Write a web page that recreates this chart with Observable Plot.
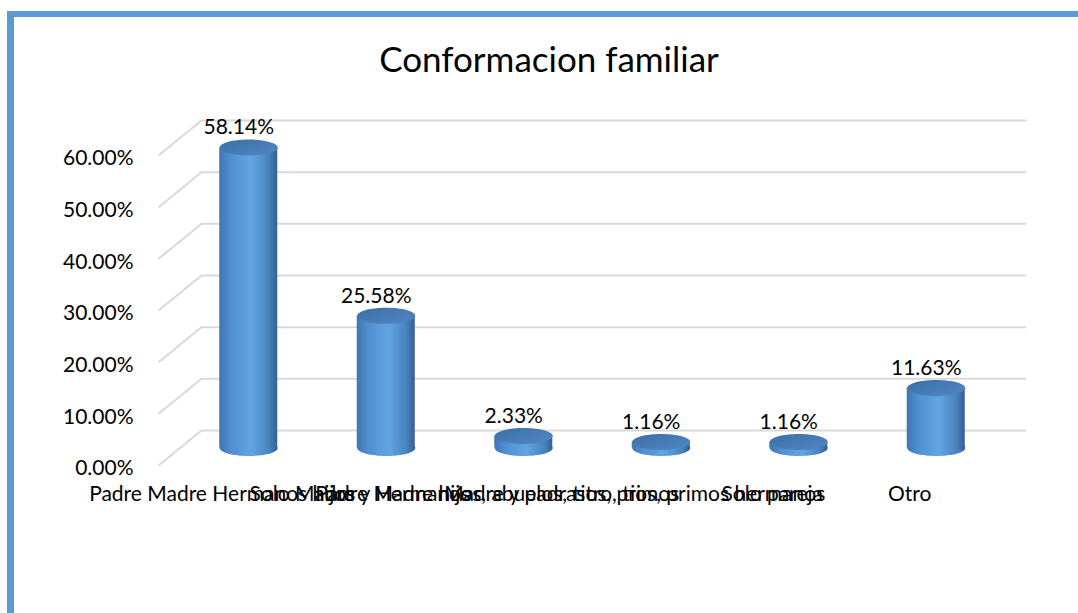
<!DOCTYPE html>
<html>
<head>
<meta charset="utf-8">
<script src="https://cdn.jsdelivr.net/npm/d3@7"></script>
<script src="https://cdn.jsdelivr.net/npm/@observablehq/plot@0.6"></script>
<style>
  html, body { margin: 0; padding: 0; background: #fff; width: 1078px; height: 613px; overflow: hidden; }
  #frame { position: absolute; left: 7px; top: 11px; width: 1200px; height: 700px;
           border-top: 6px solid #5b9bd5; border-left: 7px solid #5b9bd5; box-sizing: border-box; }
  #title { position: absolute; left: 0; width: 1098px; top: 37px; text-align: center;
           font-family: Lato, "Open Sans", sans-serif; font-size: 35px; color: #000; }
  #chart { position: absolute; left: 0; top: 0; }
</style>
</head>
<body>
<div id="frame"></div>
<div id="title">Conformacion familiar</div>
<div id="chart"></div>
<script>
// ---- data ----
const categories = [
  "Padre Madre Hermanos hijos",
  "Solo Madre y Hermanos",
  "Padre Madre hijos, abuelos, tios, primos",
  "Madre y padrastro, tios, primos hermanos",
  "Solo pareja",
  "Otro"
];
const values = [0.5814, 0.2558, 0.0233, 0.0116, 0.0116, 0.1163];
const valueLabels = ["58.14%", "25.58%", "2.33%", "1.16%", "1.16%", "11.63%"];
const yTicks = [0, 0.1, 0.2, 0.3, 0.4, 0.5, 0.6];

// ---- layout ----
const W = 1078, H = 560;
const mL = 158, mR = 95, mT = 155, mB = 95;
const depthPx = {x: 43, y: 35};       // 3D depth of the plot floor
const barHalfPx = 29, capRy = 8;

const pxPerX = (W - mL - mR) / categories.length;
const pxPerY = (H - mT - mB) / 0.6;
const depthX = depthPx.x / pxPerX;
const depthY = depthPx.y / pxPerY;
const halfBar = barHalfPx / pxPerX;
const midDx = depthPx.x / 2, midDy = -depthPx.y / 2;

const data = categories.map((c, i) => ({c, i, x: i + 0.5, v: values[i], label: valueLabels[i]}));

const ellipse = {
  draw(ctx) {
    const rx = barHalfPx, ry = capRy, k = 0.5523;
    ctx.moveTo(rx, 0);
    ctx.bezierCurveTo(rx, ry * k, rx * k, ry, 0, ry);
    ctx.bezierCurveTo(-rx * k, ry, -rx, ry * k, -rx, 0);
    ctx.bezierCurveTo(-rx, -ry * k, -rx * k, -ry, 0, -ry);
    ctx.bezierCurveTo(rx * k, -ry, rx, -ry * k, rx, 0);
    ctx.closePath();
  }
};

const chart = Plot.plot({
  width: W, height: H,
  marginLeft: mL, marginRight: mR, marginTop: mT, marginBottom: mB,
  style: {fontFamily: "Lato, 'Open Sans', sans-serif", fontSize: "20px", color: "#000", background: "transparent"},
  x: {type: "linear", domain: [0, categories.length], label: null},
  y: {domain: [0, 0.6], label: null},
  marks: [
    Plot.ruleY(yTicks, {dx: depthPx.x, dy: -depthPx.y, stroke: "#d9d9d9", strokeWidth: 2}),
    Plot.link(yTicks, {x1: 0, y1: d => d, x2: depthX, y2: d => d + depthY, stroke: "#d9d9d9", strokeWidth: 2}),
    Plot.dot(data, {x: "x", y: 0, symbol: ellipse, r: 5, fill: "url(#cylGrad)", stroke: "none", dx: midDx, dy: midDy}),
    Plot.rect(data, {x1: d => d.x - halfBar, x2: d => d.x + halfBar, y1: 0, y2: "v", fill: "url(#cylGrad)", dx: midDx, dy: midDy}),
    Plot.dot(data, {x: "x", y: "v", symbol: ellipse, r: 5, fill: "url(#capGrad)", stroke: "none", dx: midDx, dy: midDy}),
    Plot.text(data, {x: "x", y: "v", text: "label", dx: midDx - 10, dy: midDy - 20, fill: "#000", fontSize: 21}),
    Plot.axisY({ticks: yTicks, tickFormat: d3.format(".2%"), tickSize: 0, tickPadding: 25, dy: 3, fontSize: 21, label: null}),
    Plot.axisX({ticks: data.map(d => d.x), tickFormat: (d) => categories[Math.round(d - 0.5)], tickSize: 0, tickPadding: 21, dx: -5, fontSize: 21, label: null})
  ]
});

const svg = d3.select(chart);
const defs = svg.insert("defs", ":first-child");
const g1 = defs.append("linearGradient").attr("id", "cylGrad").attr("x1", "0").attr("x2", "1").attr("y1", "0").attr("y2", "0");
g1.append("stop").attr("offset", "0%").attr("stop-color", "#3f75b3");
g1.append("stop").attr("offset", "20%").attr("stop-color", "#5190d2");
g1.append("stop").attr("offset", "55%").attr("stop-color", "#62a4e2");
g1.append("stop").attr("offset", "85%").attr("stop-color", "#4a83c0");
g1.append("stop").attr("offset", "100%").attr("stop-color", "#33608f");
const g2 = defs.append("linearGradient").attr("id", "capGrad").attr("x1", "0").attr("x2", "1").attr("y1", "0").attr("y2", "1");
g2.append("stop").attr("offset", "0%").attr("stop-color", "#3d6ea4");
g2.append("stop").attr("offset", "100%").attr("stop-color", "#4f88c6");

document.getElementById("chart").appendChild(chart);
</script>
</body>
</html>
